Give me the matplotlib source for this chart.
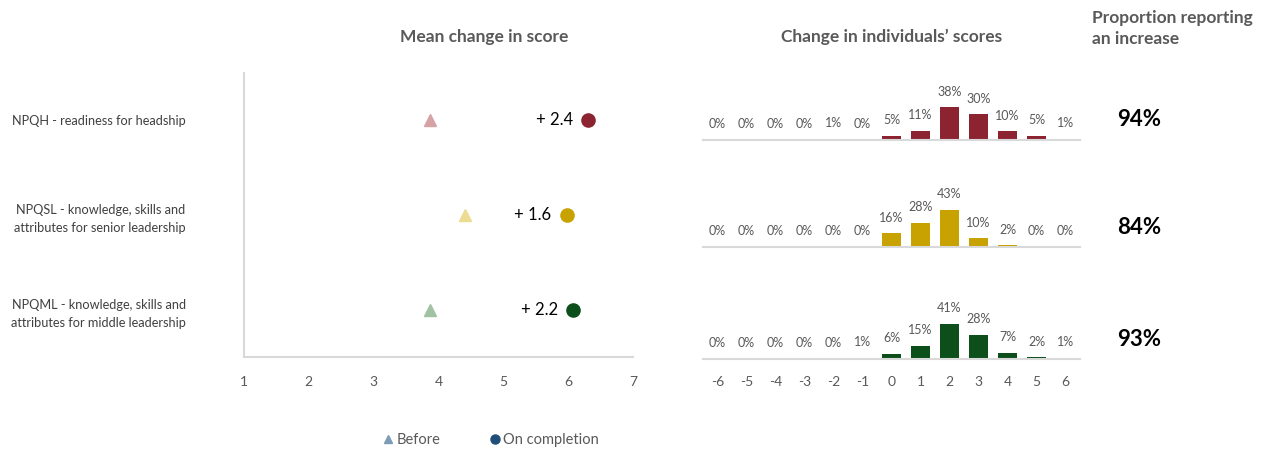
import matplotlib.pyplot as plt
from matplotlib.lines import Line2D

plt.rcParams['font.family'] = ['Lato', 'DejaVu Sans']
plt.rcParams['axes.unicode_minus'] = False

# data
groups = ["NPQH - readiness for headship",
          "NPQSL - knowledge, skills and\nattributes for senior leadership",
          "NPQML - knowledge, skills and\nattributes for middle leadership"]
before = [3.87, 4.41, 3.87]
after = [6.31, 5.98, 6.08]
change_labels = ["+ 2.4", "+ 1.6", "+ 2.2"]
score_change = [-6, -5, -4, -3, -2, -1, 0, 1, 2, 3, 4, 5, 6]
dist_npqh = [0, 0, 0, 0.4, 1, 0, 5, 11, 38, 30, 10, 5, 1]
dist_npqsl = [0, 0, 0, 0, 0, 0, 16, 28, 43, 10, 2, 0, 0]
dist_npqml = [0, 0, 0, 0, 0, 1, 6, 15, 41, 28, 7, 2, 1]
prop_increase = ["94%", "84%", "93%"]

dark = ["#8B2330", "#C8A200", "#0C4F1B"]
light = ["#D7A2A6", "#ECDB92", "#A2C2A4"]
grey_line = "#D9D9D9"
grey_text = "#595959"

W, H = 1268, 450
fig = plt.figure(figsize=(W / 100, H / 100), dpi=100)

def box(x0, y0, x1, y1):
    # pixel box (top-left origin) -> figure fraction rect
    return [x0 / W, 1 - y1 / H, (x1 - x0) / W, (y1 - y0) / H]

# ---- left: mean change in score ----
ax = fig.add_axes(box(244, 73, 633, 357))
ypos = [2, 1, 0]
for i in range(3):
    ax.plot(before[i], ypos[i], marker="^", ms=9, color=light[i], ls="none")
    ax.plot(after[i], ypos[i], marker="o", ms=9.5, color=dark[i], ls="none")
    ax.annotate(change_labels[i], (after[i], ypos[i]), xytext=(-11, 0),
                textcoords="offset points", ha="right", va="center",
                fontsize=12, color="black")
ax.set_xlim(1, 7)
ax.set_ylim(-0.5, 2.5)
ax.set_xticks(range(1, 8))
ax.set_yticks(ypos)
ax.set_yticklabels(groups, linespacing=1.6, fontsize=9.2, color="#404040")
ax.tick_params(axis="x", length=0, pad=14, labelsize=10, labelcolor=grey_text)
ax.tick_params(axis="y", length=0, pad=42)
for s in ["top", "right"]:
    ax.spines[s].set_visible(False)
for s in ["left", "bottom"]:
    ax.spines[s].set_color(grey_line)
    ax.spines[s].set_linewidth(1.5)

# ---- right: distribution of individual changes ----
baselines = [140, 247, 359]
dists = [dist_npqh, dist_npqsl, dist_npqml]
for i in range(3):
    b = baselines[i]
    bx = fig.add_axes(box(703, b - 60, 1080, b))
    bx.bar(score_change, dists[i], width=0.65, color=dark[i])
    for xv, v in zip(score_change, dists[i]):
        bx.annotate(f"{round(v)}%", (xv, v), xytext=(0, 7), textcoords="offset points",
                    ha="center", va="bottom", fontsize=9, color=grey_text,
                    annotation_clip=False)
    bx.set_xlim(-6.5, 6.5)
    bx.set_ylim(0, 70)
    bx.set_yticks([])
    for s in ["top", "right", "left"]:
        bx.spines[s].set_visible(False)
    bx.spines["bottom"].set_color(grey_line)
    bx.spines["bottom"].set_linewidth(1.5)
    if i == 2:
        bx.set_xticks(score_change)
        bx.tick_params(axis="x", length=0, pad=12, labelsize=10, labelcolor=grey_text)
    else:
        bx.set_xticks([])
    fig.text(1139 / W, 1 - (b - 20) / H, prop_increase[i], ha="center", va="center",
             fontsize=16, fontweight="bold", color="black")

# ---- headers ----
fig.text(484 / W, 1 - 37 / H, "Mean change in score", ha="center", va="center",
         fontsize=12.5, fontweight="bold", color=grey_text)
fig.text(892 / W, 1 - 37 / H, "Change in individuals\u2019 scores", ha="center", va="center",
         fontsize=12.5, fontweight="bold", color=grey_text)
fig.text(1092 / W, 1 - 10 / H, "Proportion reporting\nan increase", ha="left", va="top",
         fontsize=12.5, fontweight="bold", color=grey_text, linespacing=1.35)

# ---- legend ----
handles = [Line2D([], [], marker="^", ls="none", ms=6, color="#7E9CB6"),
           Line2D([], [], marker="o", ls="none", ms=6.5, color="#1F4E79")]
fig.legend(handles, ["Before", "On completion"], loc="center", ncol=2, frameon=False,
           bbox_to_anchor=(490 / W, 1 - 440 / H), fontsize=10.5, labelcolor=grey_text,
           handletextpad=0.1, columnspacing=3.2, handlelength=1)

fig.savefig("out.png", dpi=100)
